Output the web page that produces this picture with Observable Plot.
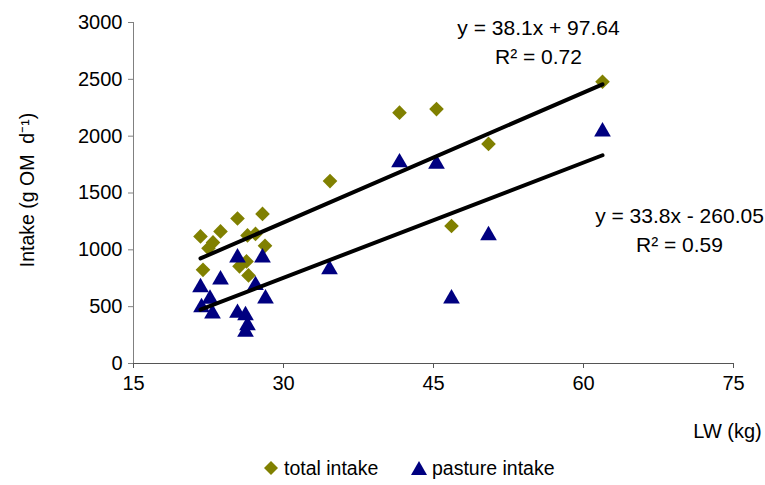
<!DOCTYPE html>
<html>
<head>
<meta charset="utf-8">
<script src="https://cdn.jsdelivr.net/npm/d3@7"></script>
<script src="https://cdn.jsdelivr.net/npm/@observablehq/plot@0.6"></script>
<style>
  html, body { margin: 0; padding: 0; background: #fff; }
  body { font-family: "Liberation Sans", Arial, sans-serif; width: 765px; }
  #legend { position: relative; height: 45px; font-size: 19.5px; color: #000; }
  #legend .item { position: absolute; top: 16px; display: flex; align-items: center; height: 24px; line-height: 24px; }
  #legend svg { margin-right: 5px; }
</style>
</head>
<body>
<div id="chart"></div>
<div id="legend"></div>
<script>
// --- data ---
const totalLW     = [21.7, 21.95, 22.5, 22.95, 23.7, 25.4, 25.6, 26.3, 26.5, 26.4, 27.2, 27.9, 28.15, 34.65, 41.6, 45.3, 46.8, 50.5, 61.9];
const totalIntake = [1118, 824, 1013, 1065, 1162, 1276, 855, 898, 775, 1127, 1140, 1316, 1035, 1605, 2207, 2238, 1210, 1932, 2479];
const pastureLW     = [21.7, 21.8, 22.65, 22.9, 23.7, 25.4, 25.4, 26.2, 26.4, 26.2, 27.2, 27.9, 28.2, 34.6, 41.6, 45.3, 46.8, 50.5, 61.9];
const pastureIntake = [670, 494, 569, 439, 738, 931, 444, 424, 336, 278, 688, 931, 571, 828, 1768, 1756, 571, 1127, 2040];

// regression equations as printed on the chart
const totalFit   = {slope: 38.1, intercept: 97.64};
const pastureFit = {slope: 33.8, intercept: -260.05};

const xTicks = [15, 30, 45, 60, 75];
const yTicks = [0, 500, 1000, 1500, 2000, 2500, 3000];

const eqText = ["y = 38.1x + 97.64", "R² = 0.72", "y = 33.8x - 260.05", "R² = 0.59"];
const eqX    = [55.5, 55.5, 69.6, 69.6];
const eqY    = [2953, 2690, 1295, 1039];

const seriesNames  = ["total intake", "pasture intake"];
const seriesColors = ["#808000", "#000080"];

// --- build tables ---
const totalPts   = totalLW.map((x, i) => ({x, y: totalIntake[i]}));
const pasturePts = pastureLW.map((x, i) => ({x, y: pastureIntake[i]}));
function fitLine(xs, fit) {
  const [a, b] = d3.extent(xs);
  return [a, b].map(x => ({x, y: fit.slope * x + fit.intercept}));
}
const totalLine = fitLine(totalLW, totalFit);
const pastureLine = fitLine(pastureLW, pastureFit);
const eqs = eqText.map((t, i) => ({t, x: eqX[i], y: eqY[i]}));

const font = "Liberation Sans, Arial, sans-serif";

const chart = Plot.plot({
  width: 765,
  height: 440,
  marginLeft: 133,
  marginRight: 32,
  marginTop: 22,
  marginBottom: 77,
  style: {fontFamily: font, fontSize: "20px", color: "#000", background: "#fff", overflow: "visible"},
  x: {domain: [15, 75]},
  y: {domain: [0, 3000]},
  marks: [
    Plot.ruleX([15], {stroke: "#808080", strokeWidth: 1}),
    Plot.ruleY([0], {stroke: "#555", strokeWidth: 1}),
    Plot.axisY({ticks: yTicks, tickSize: 5, tickPadding: 6, stroke: "#808080", label: null, fontSize: 20, tickFormat: d => String(d)}),
    Plot.axisX({ticks: xTicks, tickSize: 5, tickPadding: 7, stroke: "#555", label: null, fontSize: 20, tickFormat: d => String(d)}),
    Plot.text(["Intake (g OM  d⁻¹)"], {frameAnchor: "left", rotate: -90, dx: -106, dy: -3, fontSize: 19.5, textAnchor: "middle"}),
    Plot.text(["LW (kg)"], {frameAnchor: "bottom-right", dx: -6, dy: 74, fontSize: 20, textAnchor: "middle"}),
    Plot.dot(totalPts, {x: "x", y: "y", symbol: "diamond2", r: 6.6, fill: seriesColors[0], stroke: "none"}),
    Plot.dot(pasturePts, {x: "x", y: "y", symbol: "triangle", r: 6.2, fill: seriesColors[1], stroke: "none"}),
    Plot.line(totalLine, {x: "x", y: "y", stroke: "#000", strokeWidth: 4}),
    Plot.line(pastureLine, {x: "x", y: "y", stroke: "#000", strokeWidth: 4}),
    Plot.text(eqs, {x: "x", y: "y", text: "t", fontSize: 21, textAnchor: "middle"})
  ]
});
document.getElementById("chart").appendChild(chart);

// legend
const legend = document.getElementById("legend");
const symbols = [
  '<svg width="16" height="16" viewBox="-8 -8 16 16"><path d="M0,-7L7,0L0,7L-7,0Z" fill="#808000"/></svg>',
  '<svg width="16" height="16" viewBox="-8 -8 16 16"><path d="M0,-7L8,7L-8,7Z" fill="#000080"/></svg>'
];
const legendLeft = [263, 411];
seriesNames.forEach((name, i) => {
  const item = document.createElement("span");
  item.className = "item";
  item.style.left = legendLeft[i] + "px";
  item.innerHTML = symbols[i] + "<span>" + name + "</span>";
  legend.appendChild(item);
});
</script>
</body>
</html>
